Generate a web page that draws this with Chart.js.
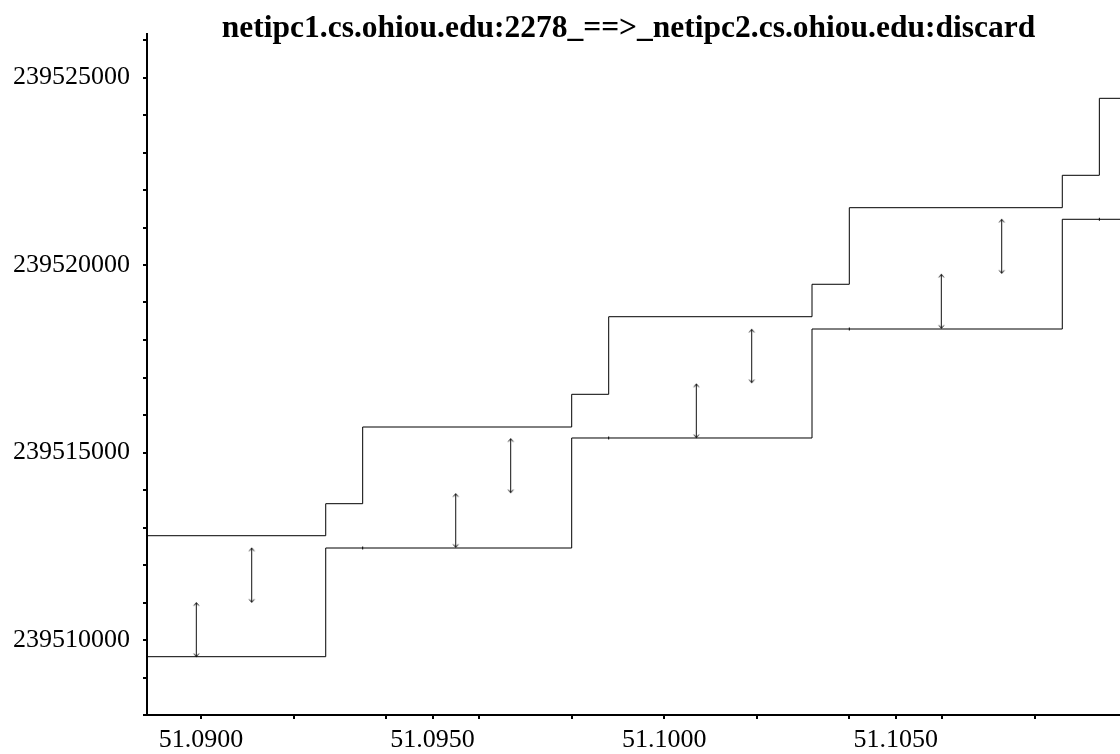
<!DOCTYPE html>
<html>
<head>
<meta charset="utf-8">
<script src="https://cdn.jsdelivr.net/npm/chart.js@4/dist/chart.umd.min.js"></script>
<style>
  html, body { margin: 0; padding: 0; background: #fff; }
  canvas { display: block; }
</style>
</head>
<body>
<canvas id="seqChart" width="1120" height="754"></canvas>
<script>
// ---------- Data ----------
const titleText = 'netipc1.cs.ohiou.edu:2278_==>_netipc2.cs.ohiou.edu:discard';

// ack line (lower step line)
const ackTimes = [51.0880, 51.092693, 51.098004, 51.103193, 51.108597, 51.1100];
const ackSeq   = [239509555, 239512453, 239515387, 239518293, 239521219, 239521219];

// advertised window line (upper step line)
const winTimes = [51.0880, 51.092693, 51.093491, 51.098004, 51.098803,
                  51.103193, 51.103998, 51.108597, 51.109397, 51.1100];
const winSeq   = [239512781, 239513635, 239515680, 239516552, 239518621,
                  239519486, 239521528, 239522392, 239524445, 239524445];

// data segments (double arrows)
const segTimes = [51.089899, 51.091095, 51.095500, 51.096687,
                  51.100695, 51.101891, 51.105985, 51.107289];
const segStart = [239509555, 239511005, 239512472, 239513928,
                  239515395, 239516861, 239518312, 239519779];
const segEnd   = [239510995, 239512453, 239513901, 239515368,
                  239516827, 239518285, 239519752, 239521219];

// small ack marks sitting on the lower line
const markTimes = [51.093491, 51.098803, 51.103998, 51.109397];
const markSeq   = [239512453, 239515387, 239518293, 239521219];

// axes
const xMin = 51.088834, xMax = 51.109843;
const yMin = 239508000, yMax = 239526160;
const xTickValues  = [51.090, 51.092, 51.094, 51.095, 51.096, 51.098,
                      51.100, 51.102, 51.104, 51.105, 51.106, 51.108];
const xLabelValues = [51.090, 51.095, 51.100, 51.105];
const yLabelStep = 5000;
const yTickStep = 1000;

// ---------- arrow heads ----------
function arrowHead(up) {
  const c = document.createElement('canvas');
  c.width = 9; c.height = 9;
  const g = c.getContext('2d');
  g.strokeStyle = '#000';
  g.lineWidth = 1;
  g.beginPath();
  if (up) { g.moveTo(2.0, 7.5); g.lineTo(4.5, 4.6); g.lineTo(7.0, 7.5); }
  else    { g.moveTo(2.0, 1.5); g.lineTo(4.5, 4.4); g.lineTo(7.0, 1.5); }
  g.stroke();
  return c;
}
const headUp = arrowHead(true);
const headDown = arrowHead(false);

// ---------- datasets ----------
const lineStyle = { borderColor: '#000', borderWidth: 1, pointRadius: 0, showLine: true, fill: false };

const datasets = [
  { ...lineStyle, label: 'ack', stepped: true,
    data: ackTimes.map((t, i) => ({ x: t, y: ackSeq[i] })) },
  { ...lineStyle, label: 'window', stepped: true,
    data: winTimes.map((t, i) => ({ x: t, y: winSeq[i] })) },
  { label: 'marks', showLine: false, pointStyle: 'line', rotation: 90,
    pointRadius: 1.5, borderColor: '#000', borderWidth: 1,
    data: markTimes.map((t, i) => ({ x: t, y: markSeq[i] })) }
];

segTimes.forEach((t, i) => {
  datasets.push({
    label: 'seg' + i,
    showLine: true,
    borderColor: '#111',
    borderWidth: 1,
    pointRadius: 4,
    pointStyle: [headDown, headUp],
    data: [{ x: t, y: segStart[i] }, { x: t, y: segEnd[i] }]
  });
});

// ---------- title centred over the plot area ----------
const titlePlugin = {
  id: 'plotTitle',
  afterDraw(chart) {
    const { ctx, chartArea } = chart;
    ctx.save();
    ctx.font = 'bold 31.5px "Liberation Serif"';
    ctx.fillStyle = '#000';
    ctx.textAlign = 'center';
    ctx.textBaseline = 'alphabetic';
    ctx.fillText(titleText, (chartArea.left + chartArea.right) / 2 - 5, 37);
    ctx.restore();
  }
};

const tickFont = { family: 'Liberation Serif', size: 26 };

new Chart(document.getElementById('seqChart'), {
  type: 'scatter',
  data: { datasets },
  options: {
    responsive: false,
    animation: false,
    events: [],
    layout: { autoPadding: false, padding: { top: 34, right: 0, left: 0, bottom: 0 } },
    plugins: { legend: { display: false }, tooltip: { enabled: false }, title: { display: false } },
    scales: {
      x: {
        type: 'linear',
        min: xMin, max: xMax,
        afterFit: s => { s.height = 39; s.paddingLeft = 0; s.paddingRight = 0; },
        afterBuildTicks: s => { s.ticks = xTickValues.map(v => ({ value: v })); },
        grid: { drawOnChartArea: false, drawTicks: true, tickLength: 4, color: '#000', lineWidth: 2 },
        border: { display: true, color: '#000', width: 2 },
        ticks: {
          autoSkip: false, maxRotation: 0, padding: 6, color: '#000', font: tickFont,
          callback: v => xLabelValues.some(l => Math.abs(l - v) < 1e-7) ? v.toFixed(4) : ''
        }
      },
      y: {
        type: 'linear',
        min: yMin, max: yMax,
        afterFit: s => { s.width = 147; s.paddingTop = 0; s.paddingBottom = 0; },
        afterBuildTicks: s => {
          const ticks = [];
          for (let v = yMin; v <= yMax; v += yTickStep) ticks.push({ value: v });
          s.ticks = ticks;
        },
        grid: { drawOnChartArea: false, drawTicks: true, tickLength: 4, color: '#000', lineWidth: 2 },
        border: { display: true, color: '#000', width: 2 },
        ticks: {
          autoSkip: false, padding: 13, color: '#000', font: tickFont,
          callback: v => Math.round(v) % yLabelStep === 0 ? String(Math.round(v)) : ''
        }
      }
    }
  },
  plugins: [titlePlugin]
});
</script>
</body>
</html>
